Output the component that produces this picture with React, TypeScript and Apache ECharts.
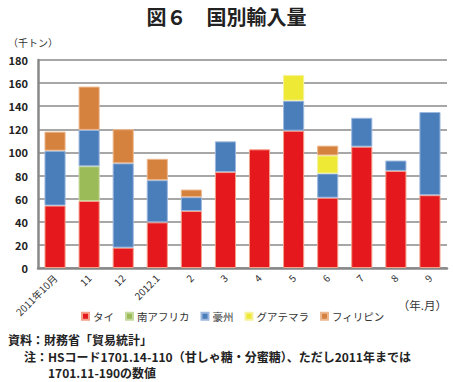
import React, { useEffect, useRef } from "react";
import * as echarts from "echarts";

const categories = ["2011年10月", "11", "12", "2012.1", "2", "3", "4", "5", "6", "7", "8", "9"];
const thai = [54, 58, 17.6, 39.5, 49.3, 83, 102.7, 118.8, 60.8, 105, 84, 63];
const southAfrica = [null, 30, null, null, null, null, null, null, null, null, null, null];
const australia = [47.5, 31.5, 73, 36.5, 12, 26.6, null, 26, 21, 25, 9, 72];
const guatemala = [null, null, null, null, null, null, null, 22.3, 15.6, null, null, null];
const philippines = [16.5, 37.5, 29.5, 18.5, 6.6, null, null, null, 8.5, null, null, null];
const seriesNames = ["タイ", "南アフリカ", "豪州", "グアテマラ", "フィリピン"];
const yTicks = { min: 0, max: 180, interval: 20 };

const FONT = '"Noto Sans CJK JP", "Noto Sans", sans-serif';

export default function App() {
  const ref = useRef<HTMLDivElement>(null);
  useEffect(() => {
    if (!ref.current) return;
    const chart = echarts.init(ref.current, null, { renderer: "svg" });
    const colors = ["#E5181D", "#9BBB59", "#4A7EBB", "#EEE935", "#D6823F"];
    const borders = ["#F4A08A", "#C5DA9E", "#9DB8DE", "#F6F29A", "#ECB88F"];
    const datasets = [thai, southAfrica, australia, guatemala, philippines];
    chart.setOption({
      animation: false,
      textStyle: { fontFamily: FONT },
      grid: { left: 38, right: 6, top: 60, bottom: 114, containLabel: false },
      legend: {
        left: 81,
        top: 311,
        padding: 0,
        itemWidth: 7,
        itemHeight: 7,
        itemGap: 11,
        icon: "rect",
        textStyle: { fontSize: 10.5, color: "#333", fontFamily: FONT, padding: [0, 0, 0, -1] },
        data: seriesNames,
      },
      xAxis: {
        type: "category",
        data: categories,
        axisLine: { lineStyle: { color: "#888", width: 2.5 } },
        axisTick: { show: false },
        axisLabel: { rotate: 45, fontSize: 10, color: "#333", margin: 8, interval: 0 },
      },
      yAxis: {
        type: "value",
        min: yTicks.min,
        max: yTicks.max,
        interval: yTicks.interval,
        axisLine: { show: true, lineStyle: { color: "#888", width: 2.5 } },
        axisTick: { show: false },
        splitLine: { lineStyle: { color: "#8a8a8a", width: 1.5 } },
        axisLabel: { fontSize: 11, color: "#222", margin: 10, fontWeight: "bold" },
      },
      series: datasets.map((d, i) => ({
        name: seriesNames[i],
        type: "bar",
        stack: "total",
        data: d,
        barCategoryGap: "38%",
        itemStyle: { color: colors[i], borderColor: borders[i], borderWidth: 1 },
      })),
      graphic: [
        {
          type: "text",
          left: "center",
          top: 6,
          style: { text: "図６　国別輸入量", fontSize: 20, fontWeight: "bold", fill: "#222", fontFamily: FONT },
        },
        {
          type: "text",
          left: 8,
          top: 37,
          style: { text: "（千トン）", fontSize: 10, fill: "#333", fontFamily: FONT },
        },
        {
          type: "text",
          right: 6,
          top: 299,
          style: { text: "（年.月）", fontSize: 11.5, fill: "#333", fontFamily: FONT },
        },
        {
          type: "text",
          left: 8,
          top: 333,
          style: { text: "資料：財務省「貿易統計」", fontSize: 12, fontWeight: "bold", fill: "#222", fontFamily: FONT },
        },
        {
          type: "text",
          left: 24,
          top: 350,
          style: { text: "注：HSコード1701.14-110（甘しゃ糖・分蜜糖）、ただし2011年までは", fontSize: 12, fontWeight: "bold", fill: "#222", fontFamily: FONT },
        },
        {
          type: "text",
          left: 48,
          top: 366,
          style: { text: "1701.11-190の数値", fontSize: 12, fontWeight: "bold", fill: "#222", fontFamily: FONT },
        },
      ],
    });
    return () => chart.dispose();
  }, []);
  return <div ref={ref} style={{ width: 453, height: 382, position: "absolute", left: 0, top: 0 }} />;
}
